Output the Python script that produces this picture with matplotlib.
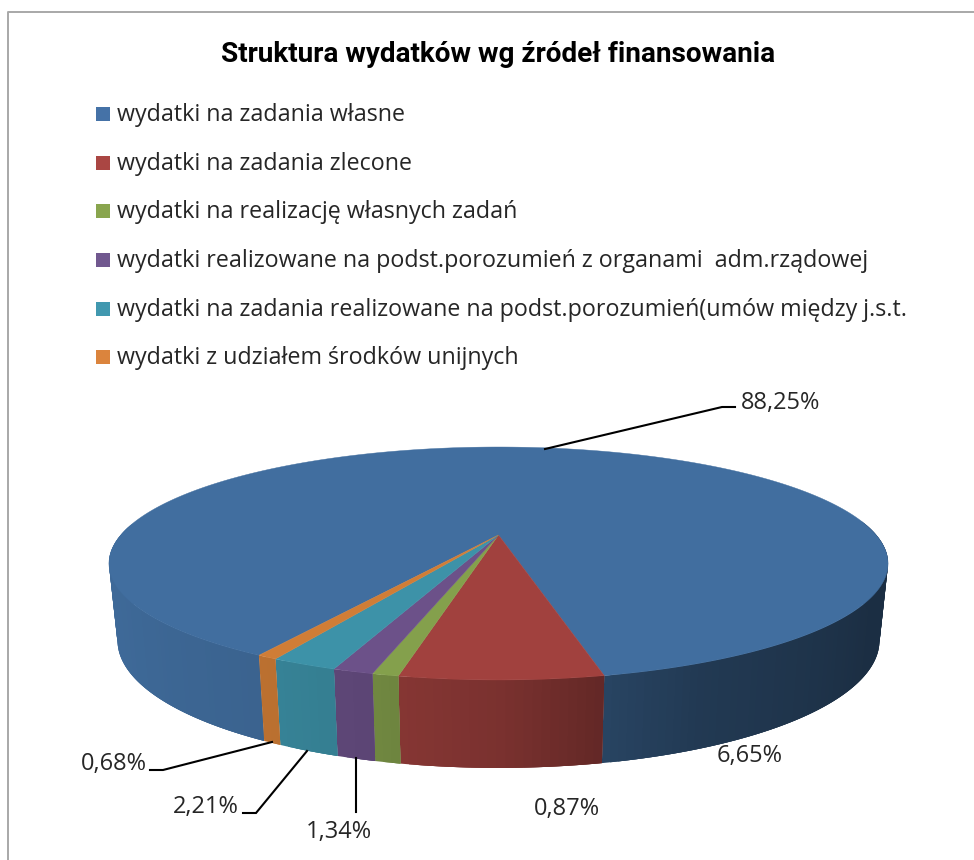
import numpy as np
import matplotlib
matplotlib.use("Agg")
import matplotlib.pyplot as plt
from matplotlib.patches import Polygon, Rectangle

title = "Struktura wydatków wg źródeł finansowania"
categories = [
    "wydatki na zadania własne",
    "wydatki na zadania zlecone",
    "wydatki na realizację własnych zadań",
    "wydatki realizowane na podst.porozumień z organami  adm.rządowej",
    "wydatki na zadania realizowane na podst.porozumień(umów między j.s.t.",
    "wydatki z udziałem środków unijnych",
]
values = [88.25, 6.65, 0.87, 1.34, 2.21, 0.68]
labels = ["88,25%", "6,65%", "0,87%", "1,34%", "2,21%", "0,68%"]
colors = ["#416e9f", "#a1413e", "#84a04c", "#6c5189", "#3d92a8", "#d07d36"]
legend_colors = ["#4572a7", "#aa4643", "#89a54e", "#71588f", "#4198af", "#db843d"]

title_font = "Roboto"
body_font = "Open Sans"

fig = plt.figure(figsize=(9.74, 8.6), dpi=100)
ax = fig.add_axes([0, 0, 1, 1])
ax.set_xlim(0, 974)
ax.set_ylim(860, 0)
ax.axis("off")

# chart frame
ax.plot([974, 8, 8], [12, 12, 860], color="#a8a8a8", lw=1.4, zorder=1)

# perspective disc geometry
CX, RX, C, A_Y, B_Y = 498.5, 377.7, -0.2446, -21.35, 535.0
START = 12.3  # direction of the first non-blue wedge, degrees from the front


def top(theta):
    t = np.radians(theta)
    u, v = np.sin(t), np.cos(t)
    w = 1 + C * v
    return CX + RX * u / w, (A_Y * v + B_Y) / w


def bottom(theta):
    x, y = top(theta)
    return CX + (x - CX) * 0.978, y * 1.094 + 24


def shade(theta):
    th = (theta + 180) % 360 - 180
    return np.interp(th, [-95, -60, -30, -15, 0, 12, 25, 60, 95],
                     [0.98, 0.95, 0.90, 0.85, 0.76, 0.62, 0.52, 0.42, 0.42])


# wedge angular spans, clockwise on screen, blue first
spans = []
ang = START + values[0] * 3.6
for val in values:
    a1 = ang
    a0 = ang - val * 3.6
    spans.append((a0, a1))
    ang = a0

# rim: overlapping shaded facets, so no seams show between them
for (a0, a1), col in zip(spans, colors):
    rgb = np.array(matplotlib.colors.to_rgb(col))
    steps = max(2, int((a1 - a0) / 1.0))
    edges = np.linspace(a0, a1, steps + 1)
    for k in range(steps):
        e0, e1 = edges[k], edges[min(k + 3, steps)]
        mid = 0.5 * (edges[k] + edges[k + 1])
        if np.cos(np.radians(mid)) < -0.1:
            continue
        th = np.linspace(e0, e1, 5)
        tx, ty = top(th)
        bx, by = bottom(th[::-1])
        pts = list(zip(tx, ty)) + list(zip(bx, by))
        ax.add_patch(Polygon(pts, closed=True, fc=rgb * shade(mid), ec="none", zorder=2))

# top face
for (a0, a1), col in zip(spans, colors):
    th = np.linspace(a0, a1, max(3, int((a1 - a0) * 2)))
    xs, ys = top(th)
    pts = [(CX, B_Y)] + list(zip(xs, ys))
    ax.add_patch(Polygon(pts, closed=True, fc=col, ec=col, lw=0.3, zorder=3))

# leader lines
leaders = [
    ([545, 722, 735], [449, 407, 407]),
    ([272, 163, 150], [742, 770, 770]),
    ([307, 256, 243], [751, 813, 813]),
    ([356, 356], [758, 812]),
]
for xs, ys in leaders:
    ax.plot(xs, ys, color="black", lw=1.5, zorder=4, solid_joinstyle="miter")

# title
ax.text(498, 55, title, ha="center", va="center", fontsize=20.1,
        fontweight="bold", family=title_font, color="black")

# legend
legend_y = [114, 163, 211, 260, 309, 357]
for y, name, col in zip(legend_y, categories, legend_colors):
    ax.add_patch(Rectangle((96, y - 7), 14, 14, fc=col, ec="none", zorder=3))
    ax.text(117, y + 1, name, ha="left", va="center", fontsize=16.75, family=body_font, color="#262626")

# data labels
label_pos = [(781, 403), (750, 756), (567, 809), (339, 832), (206, 807), (114, 764)]
for (x, y), txt in zip(label_pos, labels):
    ax.text(x, y, txt, ha="center", va="center", fontsize=17, family=body_font, color="#262626")

fig.savefig("out.png", dpi=100)
